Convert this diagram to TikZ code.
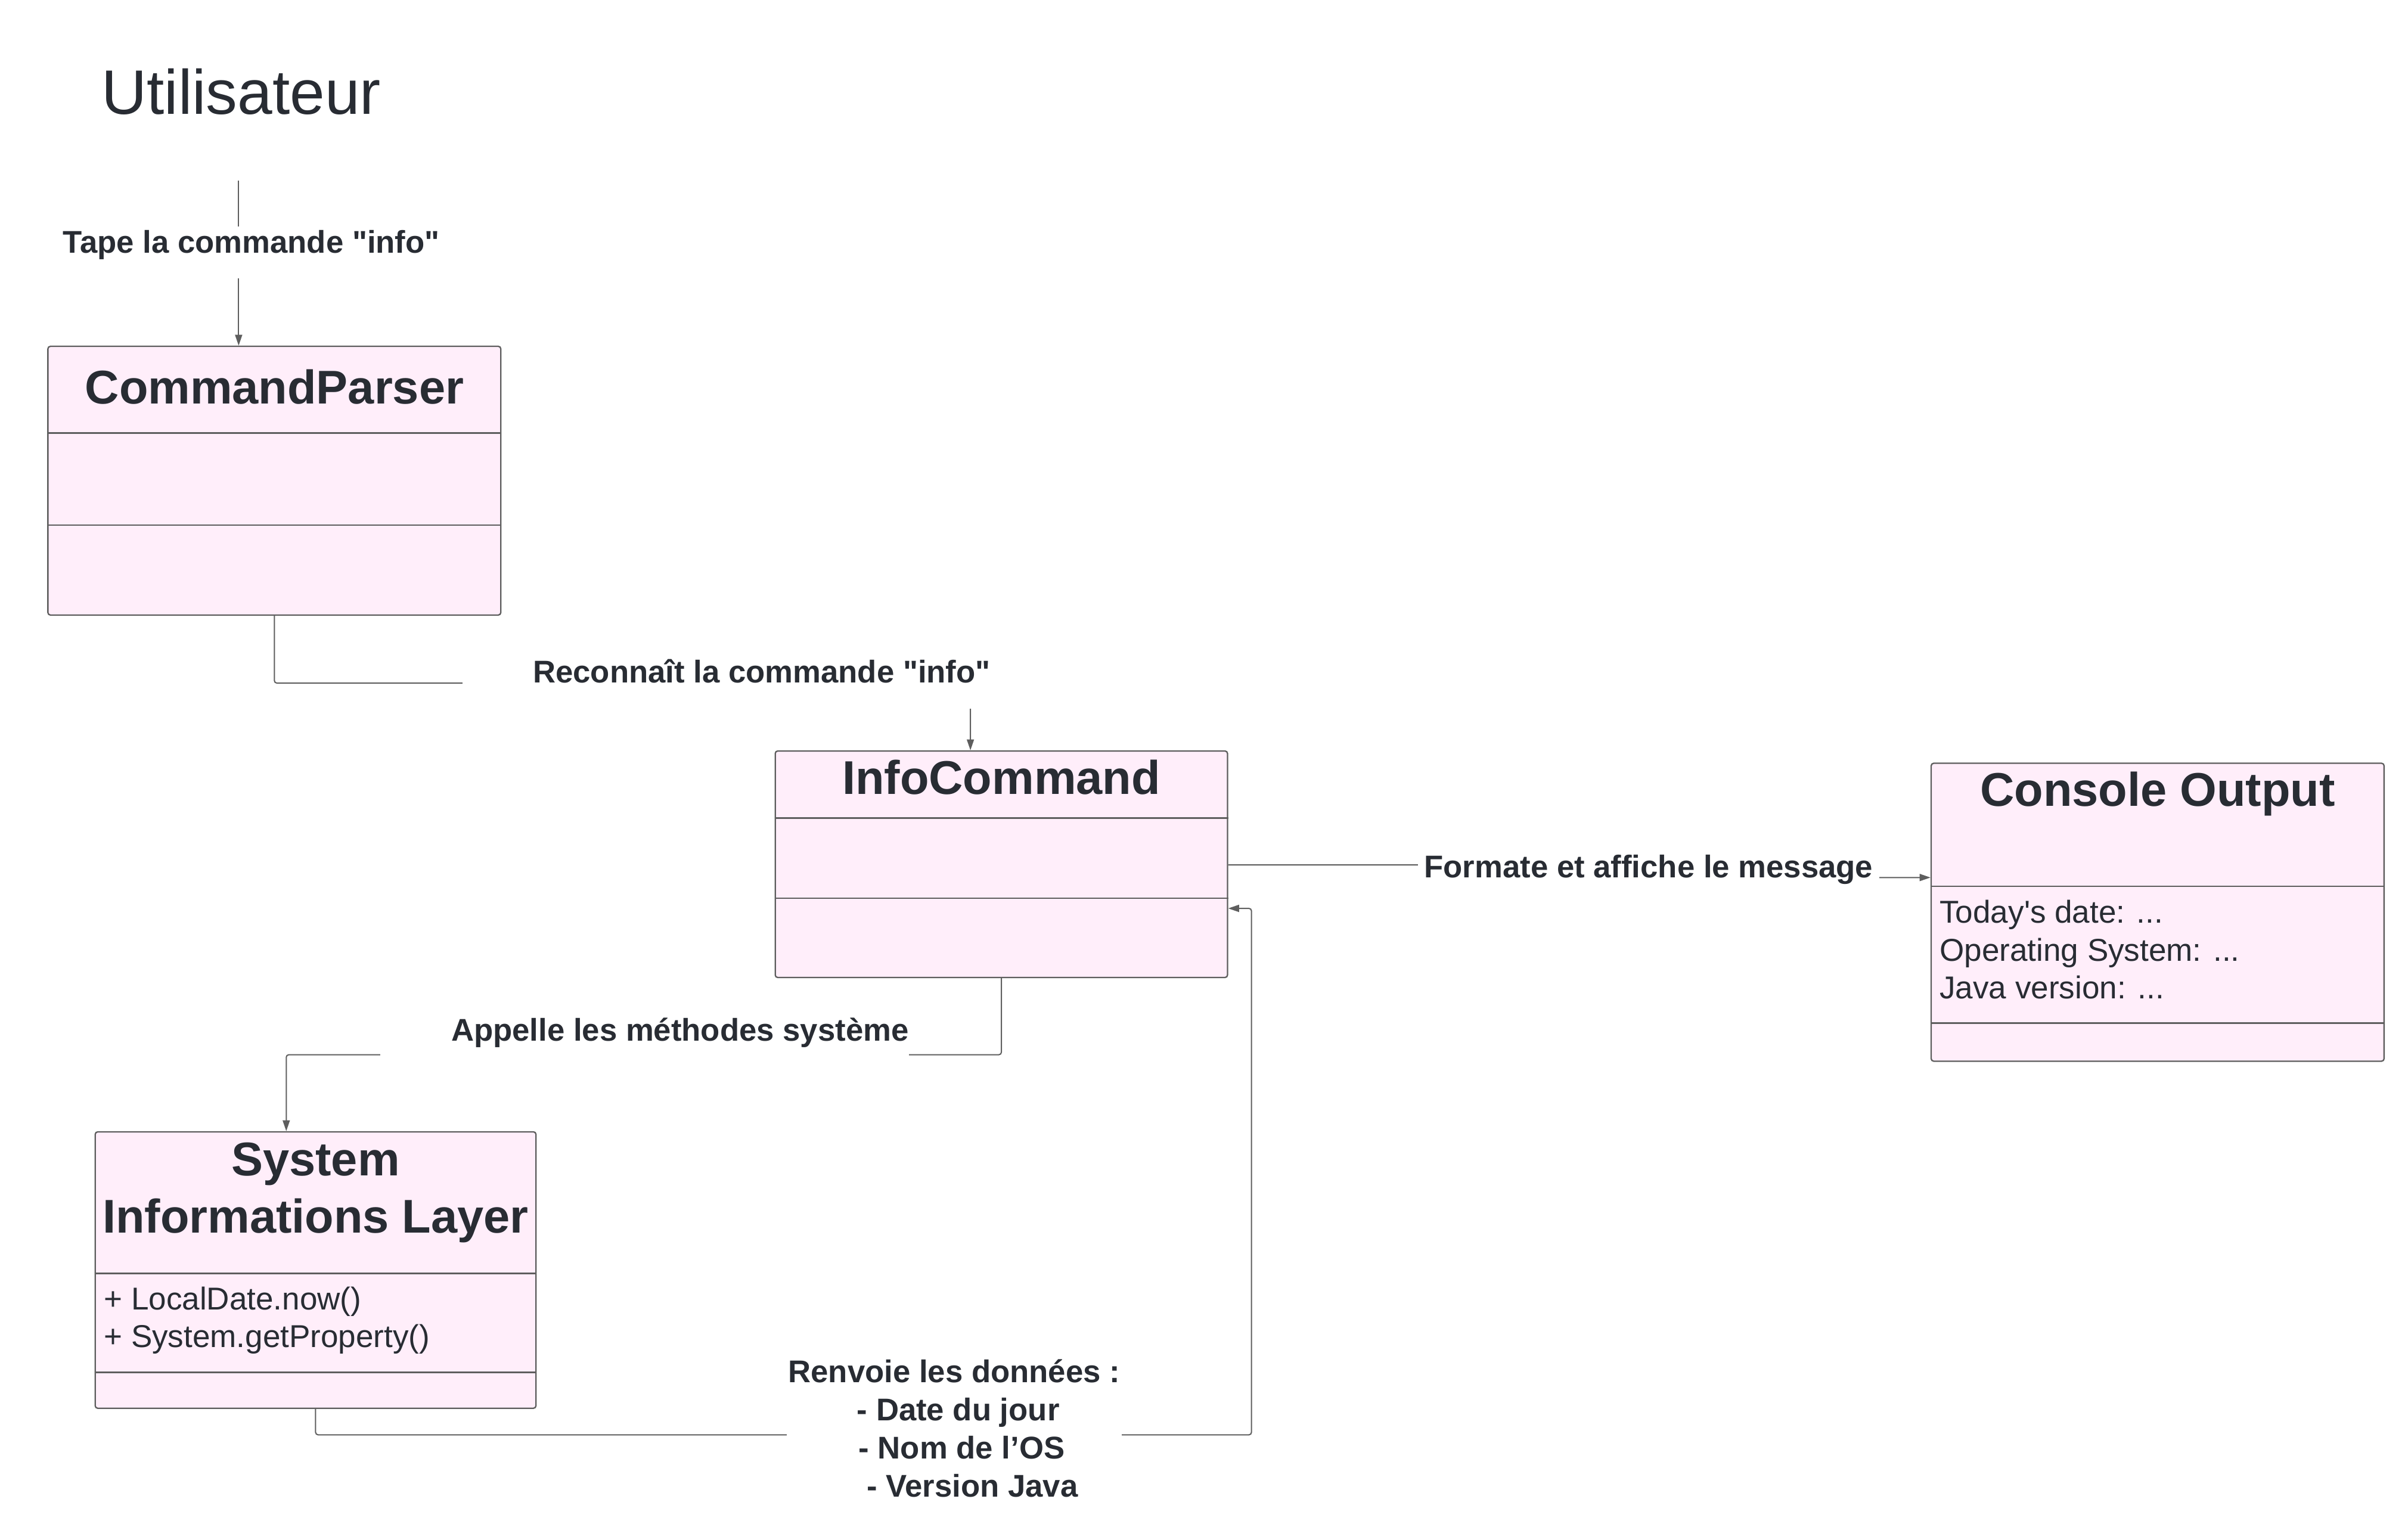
\documentclass[tikz,border=0pt]{standalone}
\usepackage{fontspec}
\newfontfamily\lucid{Liberation Sans}
\usetikzlibrary{arrows.meta,fit}
\definecolor{boxpink}{HTML}{FFEEFA}
\definecolor{edgegray}{HTML}{5E5E5E}
\definecolor{inkdark}{HTML}{282C33}
\tikzset{
    umlclass/.style={draw=edgegray, fill=boxpink, line width=0.65pt,
        rounded corners=1.2pt, inner sep=0pt},
    umldiv/.style={draw=edgegray, line width=0.65pt},
    umltitle/.style={font=\lucid\bfseries\fontsize{22.6}{27.6}\selectfont,
        text=inkdark, inner sep=0pt, align=center},
    umlattr/.style={font=\lucid\fontsize{15.1}{18}\selectfont,
        text=inkdark, inner sep=0pt, align=left},
    flow/.style={draw=edgegray, line width=0.57pt, rounded corners=1.2pt,
        -{Triangle[length=5.2pt,width=3.4pt]}},
    flowlabel/.style={font=\lucid\bfseries\fontsize{15}{18.2}\selectfont,
        text=inkdark, fill=white, inner ysep=0pt, inner xsep=3pt}
}

\begin{document}
\begin{tikzpicture}[x=0.025765cm, y=-0.025765cm]
\useasboundingbox (0,0) rectangle (1568,998);
\fill[white] (0,0) rectangle (1568,998);

\node[font=\lucid\fontsize{30}{36}\selectfont, text=inkdark, inner sep=0pt,
    anchor=base west] (user) at (65.8,74.4) {Utilisateur};
\coordinate (typestart) at (155.4,117.6);

\node[umlclass, fit={(31.2,225.5) (326.1,400.5)}] (parser) {};
\draw[umldiv] (parser.west |- 0,282) -- (parser.east |- 0,282);
\draw[umldiv] (parser.west |- 0,341.9) -- (parser.east |- 0,341.9);
\node[umltitle, anchor=base] (parsertitle) at (178.7,263) {CommandParser};

\node[umlclass, fit={(504.8,489) (799.3,636.5)}] (info) {};
\draw[umldiv] (info.west |- 0,532.7) -- (info.east |- 0,532.7);
\draw[umldiv] (info.west |- 0,584.8) -- (info.east |- 0,584.8);
\node[umltitle, anchor=base] (infotitle) at (652,517.3) {InfoCommand};

\node[umlclass, fit={(1257.5,497) (1552.4,691)}] (console) {};
\draw[umldiv] (console.west |- 0,577.2) -- (console.east |- 0,577.2);
\draw[umldiv] (console.west |- 0,666.2) -- (console.east |- 0,666.2);
\node[umltitle, anchor=base] (consoletitle) at (1405,524.8) {Console Output};
\node[umlattr, anchor=base west] (consoleattr) at (1262.8,650.2)
    {Today's date: ...\\Operating System: ...\\Java version: ...};

\node[umlclass, fit={(62,737) (349,917)}] (sysinfo) {};
\draw[umldiv] (sysinfo.west |- 0,829.2) -- (sysinfo.east |- 0,829.2);
\draw[umldiv] (sysinfo.west |- 0,893.6) -- (sysinfo.east |- 0,893.6);
\node[umltitle, anchor=base] (sysinfotitle) at (205.5,803)
    {System\\Informations Layer};
\node[umlattr, anchor=base west] (sysinfoattr) at (67.4,877.3)
    {+ LocalDate.now()\\+ System.getProperty()};

\draw[flow] (typestart) -- (typestart |- parser.north);
\draw[flow] (parser.south) |- (631.9,444.8) -- (631.9,444.8 |- info.north);
\draw[flow] (info.east |- 0,563.2) -- (1070,563.2) -- (1070,571.4)
    -- (console.west |- 0,571.4);
\draw[flow] (info.south) |- (186.4,686.8) -- (186.4,686.8 |- sysinfo.north);
\draw[flow] (sysinfo.south) |- (814.9,934.3) |- (info.east |- 0,591.5);

\node[flowlabel, anchor=base, text height=12.5pt, text depth=12.2pt]
    (typelabel) at (163.7,164.7) {Tape la commande "info"};
\node[flowlabel, anchor=base, text height=14.2pt, text depth=12.5pt,
    inner xsep=33.7pt] (parselabel) at (496,444.4) {Reconnaît la commande "info"};
\node[flowlabel, anchor=base, text height=17.2pt, text depth=7.8pt]
    (showlabel) at (1073.5,571.4) {Formate et affiche le message};
\node[flowlabel, anchor=base east, text height=16.6pt, text depth=14.1pt,
    inner xsep=0pt] (calllabel) at (592,677.7)
    {\hspace*{34pt}Appelle les méthodes système};
\node[flowlabel, anchor=base west, inner xsep=0.7pt, align=left]
    (returnlabel) at (512.1,974.8)
    {Renvoie les données :\\\hspace*{32.8pt}- Date du jour\\
     \hspace*{33.6pt}- Nom de l’OS\\\hspace*{37.4pt}- Version Java};
\end{tikzpicture}
\end{document}
